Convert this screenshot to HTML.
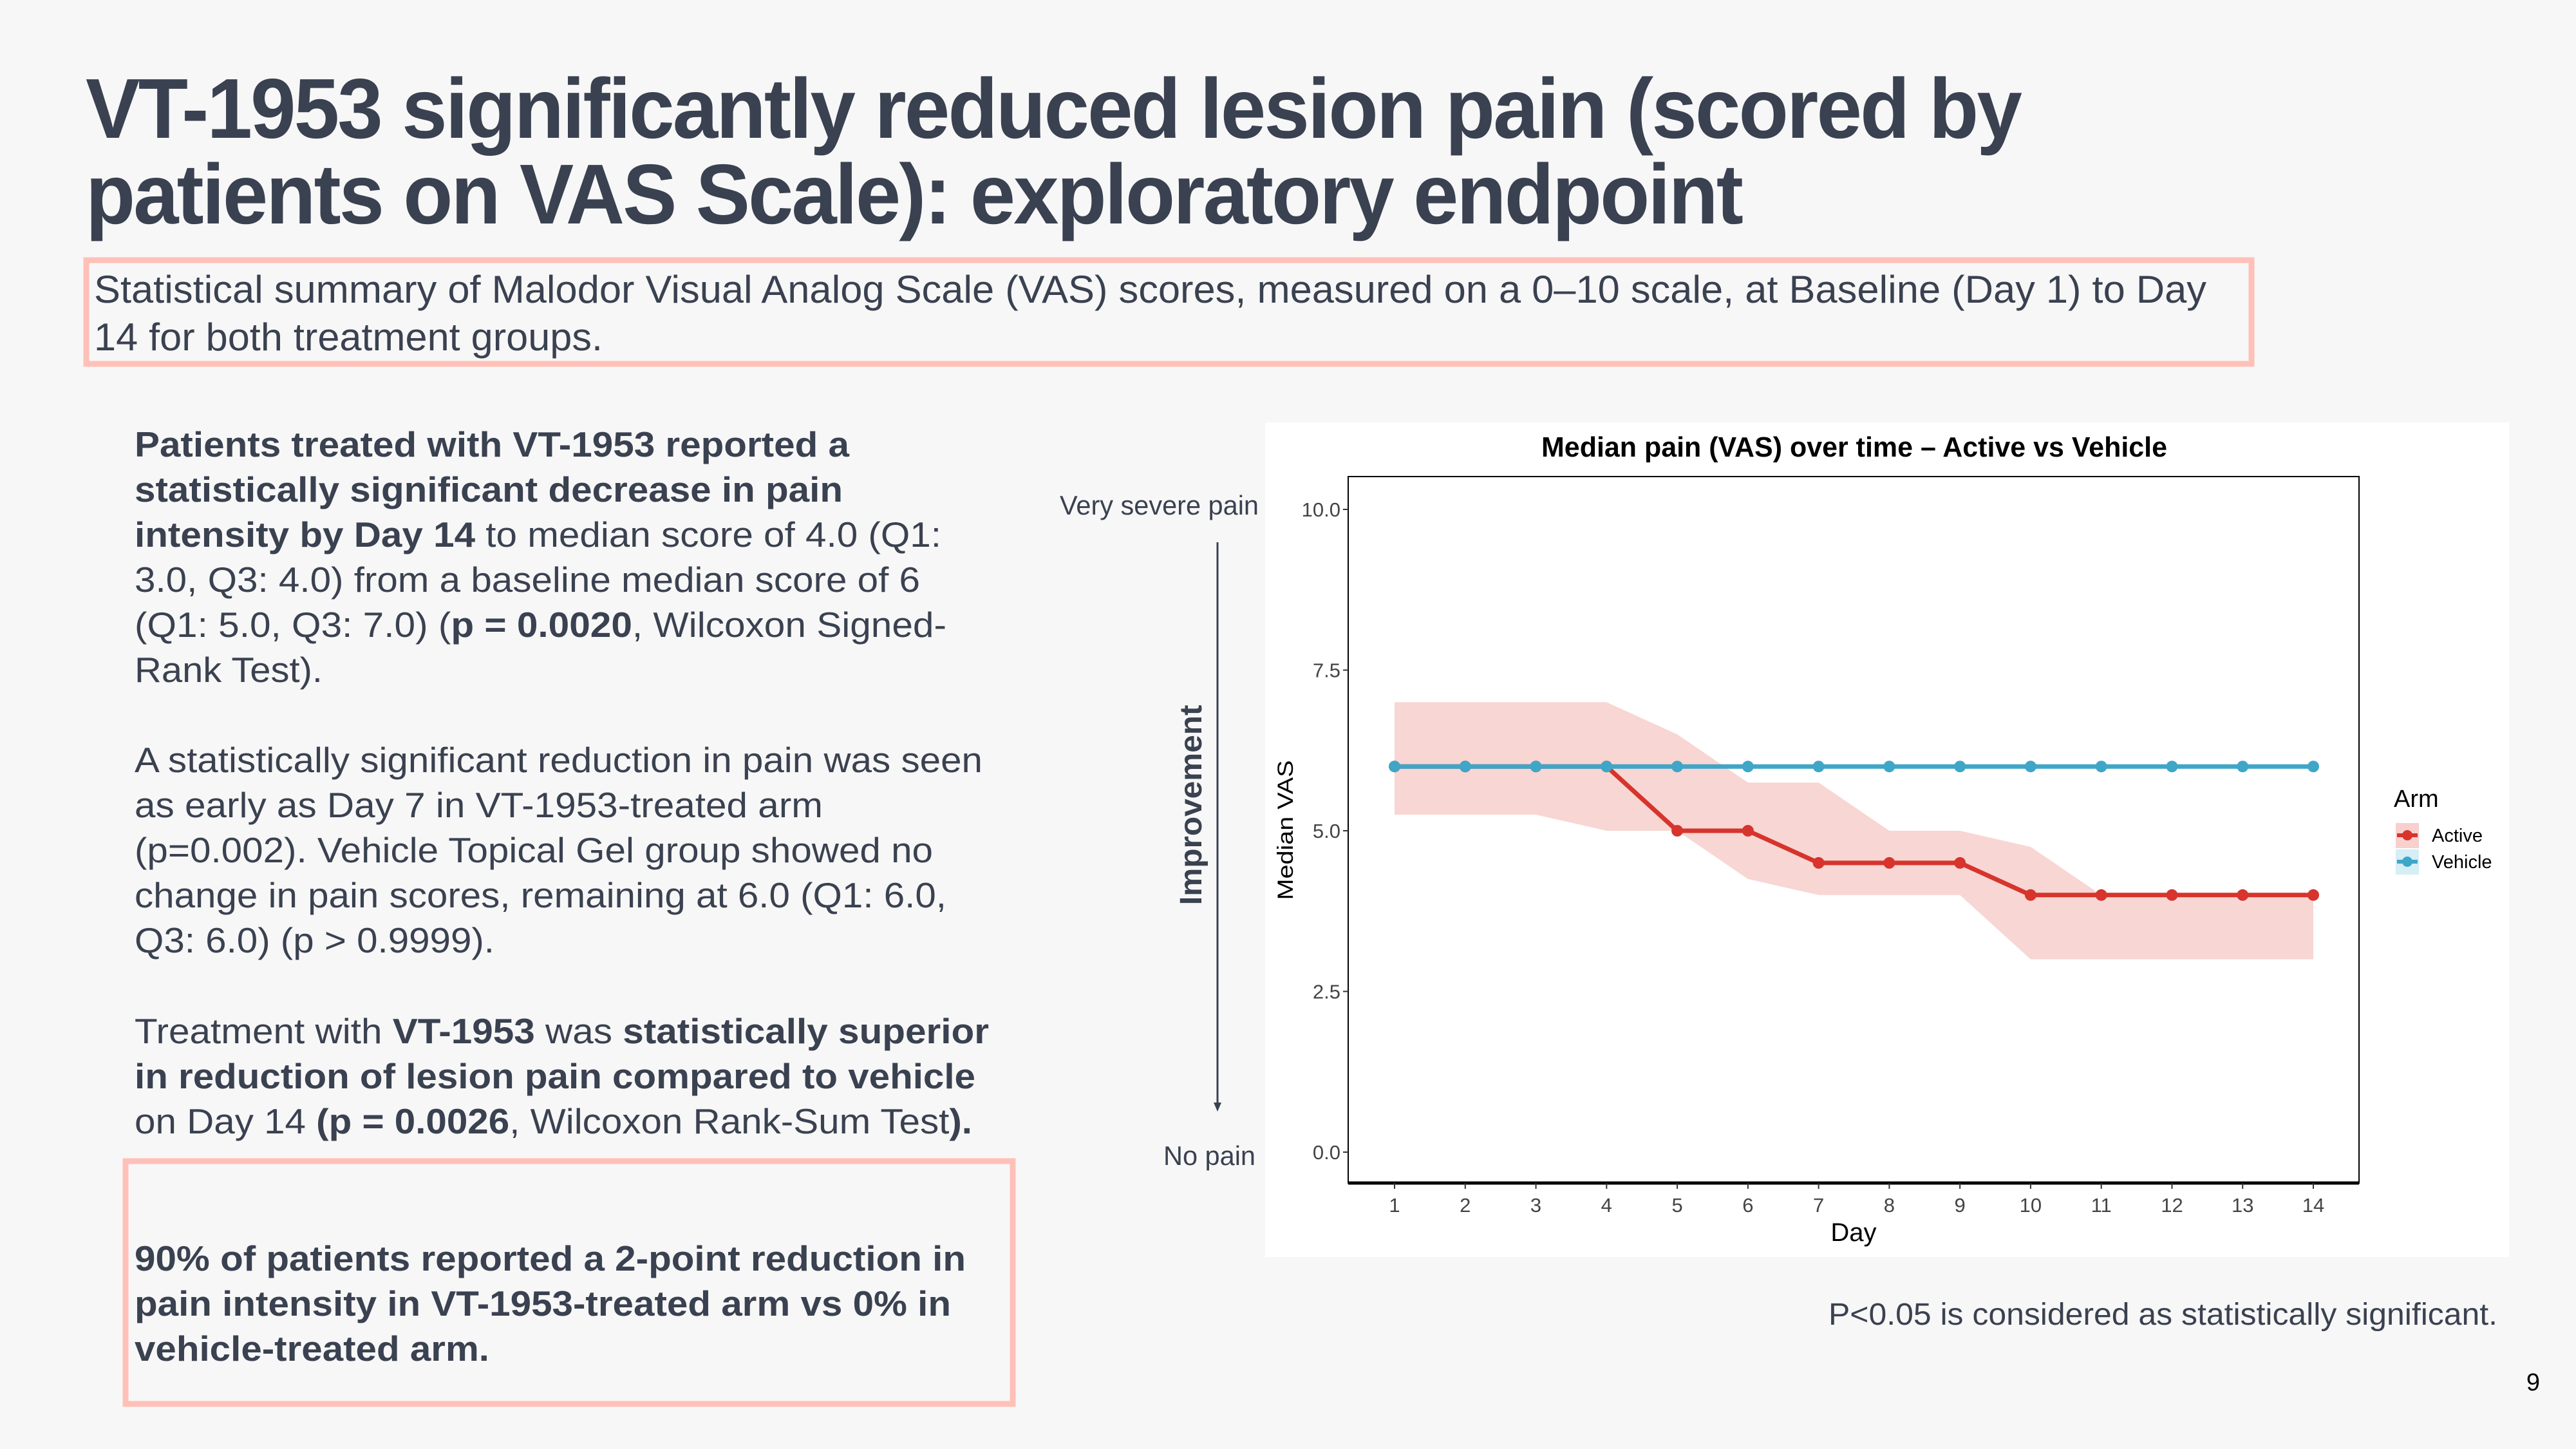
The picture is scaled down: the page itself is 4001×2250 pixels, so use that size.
<!DOCTYPE html>
<html><head><meta charset="utf-8">
<style>
html,body{margin:0;padding:0;background:#f7f7f7;}
svg{display:block;font-family:"Liberation Sans",Arial,sans-serif;}
.t{fill:#3a4150;}
.b{font-weight:bold;}
</style></head>
<body>
<svg id="page" width="4001" height="2250" viewBox="0 0 4001 2250" xmlns="http://www.w3.org/2000/svg">
<rect width="4001" height="2250" fill="#f7f7f7"/>

<g class="t b" font-size="132" letter-spacing="-3">
<text x="133" y="214" textLength="3005" lengthAdjust="spacingAndGlyphs">VT-1953 significantly reduced lesion pain (scored by</text>
<text x="133" y="347" textLength="2572" lengthAdjust="spacingAndGlyphs">patients on VAS Scale): exploratory endpoint</text>
</g>

<rect x="134" y="404" width="3363" height="161" fill="none" stroke="#ffc0b8" stroke-width="9"/>
<g class="t" font-size="60">
<text x="146" y="470" textLength="3281" lengthAdjust="spacingAndGlyphs">Statistical summary of Malodor Visual Analog Scale (VAS) scores, measured on a 0–10 scale, at Baseline (Day 1) to Day</text>
<text x="146" y="544" textLength="790" lengthAdjust="spacingAndGlyphs">14 for both treatment groups.</text>
</g>

<g class="t" font-size="55">
<text x="209" y="709" textLength="1110" lengthAdjust="spacingAndGlyphs"><tspan class="b">Patients treated with VT-1953 reported a</tspan></text>
<text x="209" y="779" textLength="1100" lengthAdjust="spacingAndGlyphs"><tspan class="b">statistically significant decrease in pain</tspan></text>
<text x="209" y="849" textLength="1253" lengthAdjust="spacingAndGlyphs"><tspan class="b">intensity by Day 14</tspan> to median score of 4.0 (Q1:</text>
<text x="209" y="919" textLength="1220" lengthAdjust="spacingAndGlyphs">3.0, Q3: 4.0) from a baseline median score of 6</text>
<text x="209" y="989" textLength="1261" lengthAdjust="spacingAndGlyphs">(Q1: 5.0, Q3: 7.0) (<tspan class="b">p = 0.0020</tspan>, Wilcoxon Signed-</text>
<text x="209" y="1059" textLength="292" lengthAdjust="spacingAndGlyphs">Rank Test).</text>
</g>
<g class="t" font-size="55">
<text x="209" y="1199" textLength="1317" lengthAdjust="spacingAndGlyphs">A statistically significant reduction in pain was seen</text>
<text x="209" y="1269" textLength="1069" lengthAdjust="spacingAndGlyphs">as early as Day 7 in VT-1953-treated arm</text>
<text x="209" y="1339" textLength="1240" lengthAdjust="spacingAndGlyphs">(p=0.002). Vehicle Topical Gel group showed no</text>
<text x="209" y="1409" textLength="1261" lengthAdjust="spacingAndGlyphs">change in pain scores, remaining at 6.0 (Q1: 6.0,</text>
<text x="209" y="1479" textLength="559" lengthAdjust="spacingAndGlyphs">Q3: 6.0) (p &gt; 0.9999).</text>
</g>
<g class="t" font-size="55">
<text x="209" y="1620" textLength="1327" lengthAdjust="spacingAndGlyphs">Treatment with <tspan class="b">VT-1953</tspan> was <tspan class="b">statistically superior</tspan></text>
<text x="209" y="1690" textLength="1306" lengthAdjust="spacingAndGlyphs"><tspan class="b">in reduction of lesion pain compared to vehicle</tspan></text>
<text x="209" y="1760" textLength="1301" lengthAdjust="spacingAndGlyphs">on Day 14 <tspan class="b">(p = 0.0026</tspan>, Wilcoxon Rank-Sum Test<tspan class="b">).</tspan></text>
</g>

<rect x="195" y="1803" width="1378" height="377" fill="none" stroke="#ffc0b8" stroke-width="9"/>
<g class="t b" font-size="55">
<text x="209" y="1973" textLength="1291" lengthAdjust="spacingAndGlyphs">90% of patients reported a 2-point reduction in</text>
<text x="209" y="2043" textLength="1268" lengthAdjust="spacingAndGlyphs">pain intensity in VT-1953-treated arm vs 0% in</text>
<text x="209" y="2113" textLength="551" lengthAdjust="spacingAndGlyphs">vehicle-treated arm.</text>
</g>

<text x="1646" y="799" font-size="42" class="t" textLength="309" lengthAdjust="spacingAndGlyphs">Very severe pain</text>
<text x="1807" y="1809" font-size="42" class="t" textLength="143" lengthAdjust="spacingAndGlyphs">No pain</text>
<text transform="translate(1866,1250) rotate(-90)" text-anchor="middle" font-size="48" class="t b" textLength="311" lengthAdjust="spacingAndGlyphs">Improvement</text>
<g>
<line x1="1891" y1="842" x2="1891" y2="1715" stroke="#3a4150" stroke-width="3"/>
<polygon points="1885,1712 1897,1712 1891,1726" fill="#3a4150"/>
</g>

<rect x="1965" y="656" width="1932" height="1296" fill="#ffffff"/>
<g id="chart"></g>

<text x="3879" y="2057" text-anchor="end" font-size="48" class="t" textLength="1039" lengthAdjust="spacingAndGlyphs">P&lt;0.05 is considered as statistically significant.</text>
<text x="3945" y="2159" text-anchor="end" font-size="38" fill="#000">9</text>
</svg>
<script>
const days = [1,2,3,4,5,6,7,8,9,10,11,12,13,14];
const activeMedian = [6,6,6,6,5,5,4.5,4.5,4.5,4,4,4,4,4];
const activeQ3 = [7,7,7,7,6.5,5.75,5.75,5,5,4.75,4,4,4,4];
const activeQ1 = [5.25,5.25,5.25,5,5,4.25,4,4,4,3,3,3,3,3];
const vehicleMedian = [6,6,6,6,6,6,6,6,6,6,6,6,6,6];
const yTicks = [0,2.5,5,7.5,10];
const yTickLabels = ["0.0","2.5","5.0","7.5","10.0"];

const NS = "http://www.w3.org/2000/svg";
const g = document.getElementById('chart');
const L = 2094, R = 3664, T = 740, B = 1837;
const NARROW = '"Liberation Sans Narrow","Liberation Sans",sans-serif';
const xs = d => 2166 + (d - 1) * (3593 - 2166) / 13;
const ys = v => 1789 - v * (1789 - 791) / 10;
const RED = "#d6342c", BLUE = "#3fa6c8";
function mk(tag, attrs, parent) {
  const e = document.createElementNS(NS, tag);
  for (const k in attrs) e.setAttribute(k, attrs[k]);
  (parent || g).appendChild(e);
  return e;
}
let el;
el = mk('text', {x: 2880, y: 709, 'text-anchor': 'middle', 'font-size': 44, 'font-weight': 'bold', fill: '#000', textLength: 972, lengthAdjust: 'spacingAndGlyphs', 'font-family': NARROW});
el.textContent = 'Median pain (VAS) over time – Active vs Vehicle';



let pts = days.map((d, i) => xs(d) + ',' + ys(activeQ3[i]));
pts = pts.concat(days.slice().reverse().map((d, j) => xs(d) + ',' + ys(activeQ1[days.length - 1 - j])));
el = mk('polygon', {points: pts.join(' '), fill: '#f5c4c1', 'fill-opacity': 0.7});



el = mk('rect', {x: L, y: T, width: R - L, height: B - T, fill: 'none', stroke: '#000', 'stroke-width': 2});


el = mk('line', {x1: L, y1: B, x2: R, y2: B, stroke: '#000', 'stroke-width': 5});



yTicks.forEach((v, i) => {
  el = mk('line', {x1: L - 8, y1: ys(v), x2: L, y2: ys(v), stroke: '#333', 'stroke-width': 2});
  
  
  el = mk('text', {x: L - 12, y: ys(v) + 11, 'text-anchor': 'end', 'font-size': 31, fill: '#444', 'font-family': NARROW});
  el.textContent = yTickLabels[i];
  
  
});
days.forEach(d => {
  el = mk('line', {x1: xs(d), y1: B, x2: xs(d), y2: B + 9, stroke: '#333', 'stroke-width': 2});
  
  
  el = mk('text', {x: xs(d), y: 1882, 'text-anchor': 'middle', 'font-size': 31, fill: '#444', 'font-family': NARROW});
  el.textContent = String(d);
  
  
});
el = mk('text', {x: 2879, y: 1927, 'text-anchor': 'middle', 'font-size': 40, fill: '#000', 'font-family': NARROW});
el.textContent = 'Day';


el = mk('text', {transform: 'translate(2008,1289) rotate(-90)', 'text-anchor': 'middle', 'font-size': 34, fill: '#000', textLength: 217, lengthAdjust: 'spacingAndGlyphs'});
el.textContent = 'Median VAS';



function series(vals, color, name) {
  el = mk('polyline', {points: days.map((d, i) => xs(d) + ',' + ys(vals[i])).join(' '), fill: 'none', stroke: color, 'stroke-width': 7, 'stroke-linejoin': 'round'});
  
  
  days.forEach((d, i) => {
    el = mk('circle', {cx: xs(d), cy: ys(vals[i]), r: 9, fill: color});
    
    
  });
}
series(activeMedian, RED, 'active');
series(vehicleMedian, BLUE, 'vehicle');

el = mk('text', {x: 3718, y: 1253, 'font-size': 38, fill: '#000', 'font-family': NARROW});
el.textContent = 'Arm';


[['Active', RED, '#f8d0cd', 1278], ['Vehicle', BLUE, '#d6eef5', 1319]].forEach(([lab, c, bg, y]) => {
  const lg = mk('g', {});
  
  
  mk('rect', {x: 3721, y: y, width: 36, height: 39, fill: bg}, lg);
  mk('line', {x1: 3723, y1: y + 19, x2: 3755, y2: y + 19, stroke: c, 'stroke-width': 6}, lg);
  mk('circle', {cx: 3739, cy: y + 19, r: 8, fill: c}, lg);
  const t = mk('text', {x: 3777, y: y + 29, 'font-size': 29, fill: '#000', 'font-family': NARROW}, lg);
  t.textContent = lab;
});
</script>
</body></html>
